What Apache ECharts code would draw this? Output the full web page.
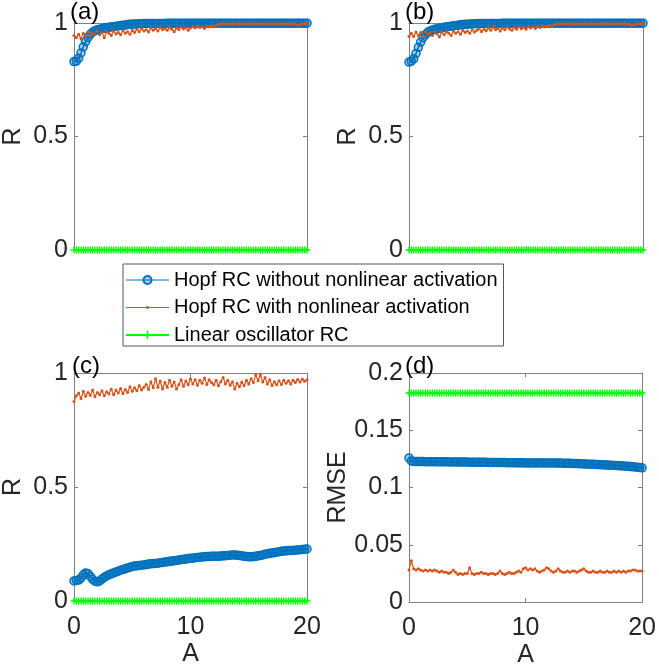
<!DOCTYPE html>
<html>
<head>
<meta charset="utf-8">
<script src="https://cdn.jsdelivr.net/npm/echarts@6/dist/echarts.min.js"></script>
<style>
html, body { margin: 0; padding: 0; background: #fff; }
#chart { width: 659px; height: 671px; }
</style>
</head>
<body>
<div id="chart"></div>
<script>
// Drive amplitude A (shared sampling for every curve)
const A = [0,0.2,0.4,0.6,0.8,1,1.2,1.4,1.6,1.8,2,2.2,2.4,2.6,2.8,3,3.2,3.4,3.6,3.8,
  4,4.2,4.4,4.6,4.8,5,5.2,5.4,5.6,5.8,6,6.2,6.4,6.6,6.8,7,7.2,7.4,7.6,7.8,
  8,8.2,8.4,8.6,8.8,9,9.2,9.4,9.6,9.8,10,10.2,10.4,10.6,10.8,11,11.2,11.4,11.6,11.8,
  12,12.2,12.4,12.6,12.8,13,13.2,13.4,13.6,13.8,14,14.2,14.4,14.6,14.8,15,15.2,15.4,15.6,15.8,
  16,16.2,16.4,16.6,16.8,17,17.2,17.4,17.6,17.8,18,18.2,18.4,18.6,18.8,19,19.2,19.4,19.6,19.8,20];

// (a) correlation R
const hopfA = [0.830,0.832,0.845,0.868,0.895,0.918,0.936,0.950,0.960,0.966,
  0.970,0.973,0.975,0.977,0.979,0.981,0.983,0.984,0.986,0.987,
  0.989,0.990,0.991,0.993,0.994,0.995,0.996,0.996,0.997,0.997,
  0.998,0.998,0.998,0.998,0.998,0.998,0.998,0.998,0.998,0.998,
  0.999,0.999,0.999,0.999,0.999,0.999,0.999,0.999,0.999,0.999,
  0.999,0.999,0.999,0.999,0.999,0.999,0.999,0.999,0.999,0.999,
  0.999,0.999,0.999,0.999,0.999,0.999,0.999,0.999,0.999,0.999,
  0.999,0.999,0.999,0.999,0.999,0.999,0.999,0.999,0.999,0.999,
  0.999,0.999,0.999,0.999,0.999,0.999,0.999,0.999,0.999,0.999,
  0.999,0.999,0.999,0.999,0.999,0.999,0.999,0.999,0.999,0.999,0.999];
const actA = [0.945,0.935,0.950,0.930,0.955,0.940,0.960,0.945,0.955,0.950,
  0.965,0.948,0.958,0.935,0.962,0.955,0.945,0.965,0.952,0.958,
  0.948,0.966,0.955,0.962,0.950,0.968,0.958,0.972,0.962,0.975,
  0.965,0.970,0.960,0.978,0.968,0.975,0.965,0.980,0.970,0.976,
  0.968,0.980,0.972,0.962,0.978,0.970,0.982,0.974,0.979,0.968,
  0.978,0.984,0.978,0.986,0.980,0.984,0.976,0.986,0.982,0.988,
  0.984,0.990,0.996,0.997,0.997,0.997,0.997,0.997,0.997,0.997,
  0.997,0.994,0.997,0.997,0.997,0.997,0.997,0.997,0.997,0.997,
  0.997,0.997,0.997,0.997,0.997,0.997,0.997,0.997,0.997,0.997,
  0.997,0.997,0.997,0.997,0.997,0.997,0.990,0.993,0.997,0.997,0.997];

// (b) correlation R
const hopfB = [0.828,0.832,0.842,0.866,0.893,0.916,0.935,0.949,0.959,0.965,
  0.969,0.972,0.975,0.977,0.979,0.981,0.983,0.985,0.986,0.988,
  0.989,0.990,0.992,0.993,0.994,0.995,0.996,0.996,0.997,0.997,
  0.998,0.998,0.998,0.998,0.998,0.998,0.998,0.998,0.998,0.998,
  0.999,0.999,0.999,0.999,0.999,0.999,0.999,0.999,0.999,0.999,
  0.999,0.999,0.999,0.999,0.999,0.999,0.999,0.999,0.999,0.999,
  0.999,0.999,0.999,0.999,0.999,0.999,0.999,0.999,0.999,0.999,
  0.999,0.999,0.999,0.999,0.999,0.999,0.999,0.999,0.999,0.999,
  0.999,0.999,0.999,0.999,0.999,0.999,0.999,0.999,0.999,0.999,
  0.999,0.999,0.999,0.999,0.999,0.999,0.999,0.999,0.999,0.999,0.999];
const actB = [0.940,0.955,0.940,0.960,0.945,0.958,0.940,0.962,0.950,0.957,
  0.945,0.960,0.952,0.938,0.960,0.948,0.962,0.955,0.945,0.965,
  0.955,0.962,0.950,0.968,0.958,0.965,0.955,0.970,0.960,0.968,
  0.975,0.962,0.972,0.966,0.978,0.968,0.982,0.970,0.976,0.965,
  0.978,0.970,0.982,0.974,0.968,0.980,0.972,0.984,0.975,0.980,
  0.972,0.985,0.978,0.984,0.976,0.986,0.980,0.988,0.982,0.986,
  0.990,0.985,0.992,0.996,0.997,0.997,0.997,0.997,0.997,0.997,
  0.997,0.994,0.997,0.997,0.997,0.997,0.997,0.997,0.997,0.997,
  0.997,0.997,0.997,0.997,0.997,0.997,0.997,0.997,0.997,0.997,
  0.997,0.997,0.997,0.997,0.997,0.990,0.992,0.997,0.997,0.997,0.997];

// (c) correlation R
const hopfC = [0.088,0.090,0.092,0.100,0.115,0.123,0.120,0.108,0.095,0.087,
  0.084,0.088,0.096,0.104,0.110,0.115,0.119,0.123,0.127,0.131,
  0.135,0.138,0.141,0.145,0.148,0.151,0.153,0.155,0.156,0.157,
  0.158,0.160,0.162,0.163,0.164,0.165,0.166,0.168,0.169,0.171,
  0.172,0.174,0.175,0.177,0.178,0.180,0.181,0.183,0.184,0.186,
  0.187,0.188,0.190,0.191,0.192,0.193,0.194,0.195,0.195,0.196,
  0.196,0.196,0.196,0.197,0.198,0.199,0.200,0.201,0.202,0.202,
  0.201,0.200,0.198,0.196,0.195,0.194,0.194,0.195,0.196,0.198,
  0.200,0.202,0.205,0.207,0.209,0.211,0.212,0.214,0.216,0.218,
  0.219,0.220,0.221,0.222,0.222,0.223,0.224,0.225,0.226,0.227,0.228];
const actC = [0.875,0.900,0.912,0.888,0.920,0.898,0.915,0.902,0.925,0.896,
  0.915,0.905,0.922,0.900,0.918,0.908,0.930,0.905,0.925,0.912,
  0.932,0.910,0.928,0.915,0.940,0.920,0.935,0.922,0.945,0.925,
  0.938,0.950,0.928,0.962,0.935,0.975,0.938,0.965,0.930,0.958,
  0.938,0.968,0.942,0.960,0.930,0.950,0.970,0.942,0.965,0.948,
  0.975,0.952,0.970,0.946,0.968,0.955,0.978,0.950,0.970,0.958,
  0.948,0.968,0.944,0.962,0.980,0.952,0.968,0.946,0.962,0.930,
  0.955,0.940,0.960,0.944,0.968,0.952,0.975,0.958,0.992,0.966,
  0.995,0.960,0.980,0.952,0.970,0.945,0.962,0.948,0.966,0.950,
  0.968,0.955,0.966,0.952,0.968,0.958,0.972,0.960,0.974,0.964,0.970];

// Linear oscillator RC: R stays at zero for every A
const linR = [0,0,0,0,0,0,0,0,0,0, 0,0,0,0,0,0,0,0,0,0,
  0,0,0,0,0,0,0,0,0,0, 0,0,0,0,0,0,0,0,0,0,
  0,0,0,0,0,0,0,0,0,0, 0,0,0,0,0,0,0,0,0,0,
  0,0,0,0,0,0,0,0,0,0, 0,0,0,0,0,0,0,0,0,0,
  0,0,0,0,0,0,0,0,0,0, 0,0,0,0,0,0,0,0,0,0, 0];

// (d) RMSE
const rmseHopf = [0.1258,0.1232,0.1227,0.1226,0.1226,0.1226,0.1226,0.1225,0.1225,0.1225,
  0.1225,0.1225,0.1224,0.1224,0.1224,0.1224,0.1224,0.1223,0.1223,0.1223,
  0.1223,0.1222,0.1222,0.1222,0.1222,0.1222,0.1221,0.1221,0.1221,0.1221,
  0.1220,0.1220,0.1220,0.1220,0.1219,0.1219,0.1219,0.1219,0.1218,0.1218,
  0.1218,0.1218,0.1217,0.1217,0.1217,0.1217,0.1216,0.1216,0.1216,0.1216,
  0.1215,0.1215,0.1215,0.1215,0.1215,0.1215,0.1215,0.1215,0.1215,0.1215,
  0.1215,0.1214,0.1214,0.1214,0.1213,0.1213,0.1212,0.1212,0.1211,0.1211,
  0.1210,0.1209,0.1209,0.1208,0.1207,0.1206,0.1205,0.1204,0.1203,0.1202,
  0.1201,0.1200,0.1199,0.1198,0.1197,0.1196,0.1195,0.1194,0.1193,0.1192,
  0.1190,0.1189,0.1188,0.1186,0.1185,0.1183,0.1181,0.1179,0.1177,0.1174,0.1172];
const rmseAct = [0.028,0.036,0.029,0.028,0.029,0.028,0.027,0.028,0.027,0.028,
  0.027,0.028,0.027,0.026,0.027,0.026,0.026,0.025,0.026,0.028,
  0.026,0.024,0.025,0.024,0.025,0.025,0.030,0.025,0.024,0.025,
  0.025,0.026,0.025,0.025,0.024,0.025,0.025,0.024,0.025,0.027,
  0.025,0.024,0.025,0.026,0.025,0.025,0.026,0.027,0.026,0.029,
  0.030,0.028,0.029,0.028,0.029,0.027,0.026,0.027,0.028,0.030,
  0.029,0.027,0.026,0.027,0.029,0.027,0.026,0.026,0.027,0.026,
  0.027,0.027,0.026,0.027,0.028,0.029,0.027,0.026,0.026,0.027,
  0.026,0.026,0.027,0.026,0.026,0.027,0.026,0.026,0.027,0.026,
  0.027,0.026,0.027,0.026,0.027,0.027,0.028,0.028,0.027,0.027,0.027];
const rmseLin = [0.1825,0.1825,0.1825,0.1825,0.1825,0.1825,0.1825,0.1825,0.1825,0.1825,
  0.1825,0.1825,0.1825,0.1825,0.1825,0.1825,0.1825,0.1825,0.1825,0.1825,
  0.1825,0.1825,0.1825,0.1825,0.1825,0.1825,0.1825,0.1825,0.1825,0.1825,
  0.1825,0.1825,0.1825,0.1825,0.1825,0.1825,0.1825,0.1825,0.1825,0.1825,
  0.1825,0.1825,0.1825,0.1825,0.1825,0.1825,0.1825,0.1825,0.1825,0.1825,
  0.1825,0.1825,0.1825,0.1825,0.1825,0.1825,0.1825,0.1825,0.1825,0.1825,
  0.1825,0.1825,0.1825,0.1825,0.1825,0.1825,0.1825,0.1825,0.1825,0.1825,
  0.1825,0.1825,0.1825,0.1825,0.1825,0.1825,0.1825,0.1825,0.1825,0.1825,
  0.1825,0.1825,0.1825,0.1825,0.1825,0.1825,0.1825,0.1825,0.1825,0.1825,
  0.1825,0.1825,0.1825,0.1825,0.1825,0.1825,0.1825,0.1825,0.1825,0.1825,0.1825];

const NAME_HOPF = 'Hopf RC without nonlinear activation';
const NAME_ACT = 'Hopf RC with nonlinear activation';
const NAME_LIN = 'Linear oscillator RC';
const panelLabels = ['(a)', '(b)', '(c)', '(d)'];

const C_BLUE = '#0072BD', C_ORANGE = '#D95319', C_GREEN = '#00FF00';
const FONT = 'Liberation Sans, Arial, Helvetica, sans-serif';
const AXIS_COLOR = '#808080';
const TEXT_COLOR = '#262626';
const PLUS = 'path://M4,0h2v4h4v2h-4v4h-2v-4h-4v-2h4z';

const grids = [
  { left: 74, top: 23, width: 233, height: 227 },
  { left: 409, top: 23, width: 234, height: 227 },
  { left: 74, top: 373, width: 233, height: 228 },
  { left: 409, top: 373, width: 237, height: 229 }
];
const yCfg = [
  { max: 1, interval: 0.5, name: 'R', gap: 48 },
  { max: 1, interval: 0.5, name: 'R', gap: 48 },
  { max: 1, interval: 0.5, name: 'R', gap: 48 },
  { max: 0.2, interval: 0.05, name: 'RMSE', gap: 58 }
];
const showX = [false, false, true, true];

const pairs = (ys) => A.map((a, i) => [a, ys[i]]);

const xAxes = [], yAxes = [];
grids.forEach((g, i) => {
  const tick = { show: true, inside: true, length: 4, lineStyle: { color: AXIS_COLOR } };
  const line = { show: true, onZero: false, lineStyle: { color: AXIS_COLOR, width: 1 } };
  xAxes.push({
    type: 'value', gridIndex: i, position: 'bottom', min: 0, max: 20, interval: 10,
    axisLine: line, axisTick: tick, splitLine: { show: false },
    axisLabel: { show: showX[i], margin: 14, verticalAlign: 'top', fontSize: 25, fontFamily: FONT, color: TEXT_COLOR },
    name: showX[i] ? 'A' : '', nameLocation: 'middle', nameGap: 41, nameMoveOverlap: false,
    nameTextStyle: { fontSize: 25, fontFamily: FONT, color: TEXT_COLOR, verticalAlign: 'top' }
  });
  xAxes.push({
    type: 'value', gridIndex: i, position: 'top', min: 0, max: 20, interval: 10,
    axisLine: line, axisTick: tick, axisLabel: { show: false }, splitLine: { show: false }
  });
  yAxes.push({
    type: 'value', gridIndex: i, position: 'left', min: 0, max: yCfg[i].max, interval: yCfg[i].interval,
    axisLine: line, axisTick: tick, splitLine: { show: false },
    axisLabel: { margin: 6, fontSize: 25, fontFamily: FONT, color: TEXT_COLOR },
    name: yCfg[i].name, nameLocation: 'middle', nameGap: yCfg[i].gap, nameMoveOverlap: false,
    nameTextStyle: { fontSize: 25, fontFamily: FONT, color: TEXT_COLOR }
  });
  yAxes.push({
    type: 'value', gridIndex: i, position: 'right', min: 0, max: yCfg[i].max, interval: yCfg[i].interval,
    axisLine: line, axisTick: tick, axisLabel: { show: false }, splitLine: { show: false }
  });
});

function hopf(i, ys) {
  return {
    type: 'line', name: NAME_HOPF, xAxisIndex: 2 * i, yAxisIndex: 2 * i, data: pairs(ys),
    symbol: 'circle', symbolSize: 8, clip: false, animation: false,
    lineStyle: { color: C_BLUE, width: 1.5 },
    itemStyle: { color: 'rgba(0,114,189,0.35)', borderColor: C_BLUE, borderWidth: 1.5 }
  };
}
function act(i, ys) {
  return {
    type: 'line', name: NAME_ACT, xAxisIndex: 2 * i, yAxisIndex: 2 * i, data: pairs(ys),
    symbol: 'circle', symbolSize: 3, clip: false, animation: false,
    lineStyle: { color: C_ORANGE, width: 1.2 },
    itemStyle: { color: C_ORANGE }
  };
}
function lin(i, ys) {
  return {
    type: 'line', name: NAME_LIN, xAxisIndex: 2 * i, yAxisIndex: 2 * i, data: pairs(ys),
    symbol: PLUS, symbolSize: 7, clip: false, animation: false,
    lineStyle: { color: C_GREEN, width: 2.5 },
    itemStyle: { color: C_GREEN }
  };
}

const series = [
  hopf(0, hopfA), act(0, actA), lin(0, linR),
  hopf(1, hopfB), act(1, actB), lin(1, linR),
  hopf(2, hopfC), act(2, actC), lin(2, linR),
  hopf(3, rmseHopf), act(3, rmseAct), lin(3, rmseLin)
];

const labelPos = [[70, 0], [405, 0], [72, 354], [405, 354]];
const graphic = panelLabels.map((t, i) => ({
  type: 'text', left: labelPos[i][0], top: labelPos[i][1], z: 10,
  style: { text: t, fontSize: 24, fontFamily: FONT, fill: '#000' }
}));

const chart = echarts.init(document.getElementById('chart'), null, { renderer: 'canvas' });
chart.setOption({
  backgroundColor: '#fff',
  animation: false,
  grid: grids,
  xAxis: xAxes,
  yAxis: yAxes,
  series: series,
  graphic: graphic,
  legend: {
    orient: 'vertical', left: 123, top: 264,
    padding: [6, 6, 1, 2], itemGap: 7.5, itemWidth: 43, itemHeight: 10,
    backgroundColor: '#fff', borderColor: '#555', borderWidth: 1, borderRadius: 0,
    textStyle: { fontSize: 20, fontFamily: FONT, color: '#000' },
    selectedMode: false,
    data: [
      { name: NAME_HOPF, lineStyle: { width: 1 } },
      { name: NAME_ACT, icon: 'path://M0,1.5h43v1h-43z M20.5,0.5h2v3h-2z' },
      { name: NAME_LIN }
    ]
  }
});
</script>
</body>
</html>
